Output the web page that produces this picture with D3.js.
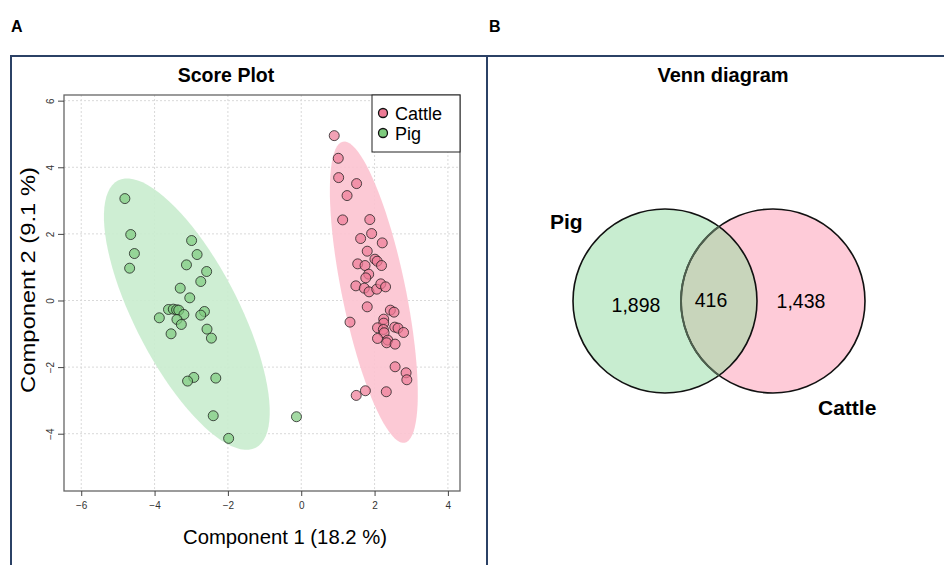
<!DOCTYPE html>
<html>
<head>
<meta charset="utf-8">
<script src="https://cdn.jsdelivr.net/npm/d3@7"></script>
<style>
  body { margin: 0; background: #fff; }
  svg { display: block; font-family: "Liberation Sans", Arial, sans-serif; }
</style>
</head>
<body>
<svg id="chart" width="944" height="565"></svg>
<script>
'use strict';

// score plot, component 1 / component 2
const cattlePC1 = [0.90, 1.01, 1.02, 1.51, 1.25, 1.13, 1.87, 1.92, 1.62, 2.21, 1.80, 2.01, 2.07, 2.19, 1.54, 1.74,
  1.84, 1.76, 1.49, 1.72, 1.85, 2.06, 2.17, 2.30, 1.80, 1.33, 2.43, 2.53, 2.25, 2.25, 2.08, 2.24, 2.55, 2.64, 2.79,
  2.26, 2.08, 2.36, 2.33, 2.56, 2.56, 2.86, 2.88, 1.50, 1.75, 2.32];
const cattlePC2 = [4.95, 4.27, 3.69, 3.51, 3.15, 2.42, 2.43, 2.01, 1.86, 1.73, 1.48, 1.24, 1.18, 1.05, 1.10, 1.05,
  0.79, 0.68, 0.44, 0.37, 0.26, 0.34, 0.50, 0.41, -0.19, -0.65, -0.29, -0.35, -0.56, -0.68, -0.82, -0.87, -0.80, -0.83, -0.96,
  -0.97, -1.14, -1.19, -1.27, -1.31, -1.99, -2.17, -2.38, -2.85, -2.71, -2.74];
const pigPC1 = [-4.81, -4.65, -4.55, -4.68, -2.99, -2.84, -3.13, -2.58, -2.74, -3.30, -3.04, -3.62, -3.49, -3.40, -3.34,
  -3.20, -3.87, -3.39, -2.64, -2.74, -3.27, -3.55, -2.57, -2.45, -2.93, -3.10, -2.33, -2.40, -1.98, -0.13];
const pigPC2 = [3.06, 1.98, 1.41, 0.97, 1.80, 1.38, 1.07, 0.87, 0.57, 0.37, 0.08, -0.27, -0.26, -0.28, -0.29,
  -0.42, -0.52, -0.57, -0.33, -0.44, -0.72, -1.00, -0.86, -1.13, -2.31, -2.42, -2.33, -3.46, -4.14, -3.49];

// 95% ellipses: centre, major semi-axis vector, minor semi-axis vector (data units)
const cattleEllipse = [1.98, 0.25, 0.845, -4.52, 0.851, 0.192];
const pigEllipse = [-3.12, -0.41, 1.88, -4.01, 1.257, 0.721];

const groups = ['Cattle', 'Pig'];
const xTicks = [-6, -4, -2, 0, 2, 4];
const yTicks = [-4, -2, 0, 2, 4, 6];

// venn diagram
const vennSets = ['Pig', 'Cattle'];
const vennCounts = [1898, 416, 1438];

const svg = d3.select('#chart');
const navy = '#2b4165';

// panel frames
svg.append('path')
  .attr('d', 'M11,570 V56 H944 M487,56 V570')
  .attr('fill', 'none')
  .attr('stroke', navy)
  .attr('stroke-width', 2);

svg.append('text').attr('x', 11).attr('y', 32).attr('font-size', 16).attr('font-weight', 'bold').text('A');
svg.append('text').attr('x', 489).attr('y', 32).attr('font-size', 16).attr('font-weight', 'bold').text('B');

// ---------- score plot ----------
const plot = { left: 64, right: 460, top: 95, bottom: 491 };
const x = d3.scaleLinear().domain([-6.47, 4.33]).range([plot.left, plot.right]);
const y = d3.scaleLinear().domain([-5.72, 6.17]).range([plot.bottom, plot.top]);
const fill = d3.scaleOrdinal().domain(groups).range(['#ee7a95', '#7dcb7d']);
const ellFill = d3.scaleOrdinal().domain(groups).range(['#fcc3d0', '#c9ecce']);

svg.append('text')
  .attr('x', 226).attr('y', 82)
  .attr('text-anchor', 'middle')
  .attr('font-size', 19.5)
  .attr('font-weight', 'bold')
  .text('Score Plot');

const grid = svg.append('g').attr('stroke', '#d9d9d9').attr('stroke-dasharray', '2,2');
grid.selectAll('.gx').data(xTicks).join('line')
  .attr('x1', d => x(d)).attr('x2', d => x(d))
  .attr('y1', plot.top).attr('y2', plot.bottom);
grid.selectAll('.gy').data(yTicks).join('line')
  .attr('y1', d => y(d)).attr('y2', d => y(d))
  .attr('x1', plot.left).attr('x2', plot.right);

const ellipseLine = d3.line()
  .x(d => x(d[0]))
  .y(d => y(d[1]));

function ellipsePoints(e) {
  return d3.range(0, 361, 4).map(function (deg) {
    const t = deg * Math.PI / 180;
    return [e[0] + e[2] * Math.cos(t) + e[4] * Math.sin(t),
            e[1] + e[3] * Math.cos(t) + e[5] * Math.sin(t)];
  });
}

svg.append('path')
  .datum(ellipsePoints(pigEllipse))
  .attr('d', ellipseLine)
  .attr('fill', ellFill('Pig'))
  .attr('fill-opacity', 0.9);
svg.append('path')
  .datum(ellipsePoints(cattleEllipse))
  .attr('d', ellipseLine)
  .attr('fill', ellFill('Cattle'))
  .attr('fill-opacity', 0.9);

const pigPts = pigPC1.map((v, i) => ({ g: 'Pig', x: v, y: pigPC2[i] }));
const cattlePts = cattlePC1.map((v, i) => ({ g: 'Cattle', x: v, y: cattlePC2[i] }));

svg.append('g').selectAll('circle')
  .data(pigPts.concat(cattlePts))
  .join('circle')
  .attr('cx', d => x(d.x))
  .attr('cy', d => y(d.y))
  .attr('r', 5)
  .attr('fill', d => fill(d.g))
  .attr('fill-opacity', 0.7)
  .attr('stroke', '#1a1a1a')
  .attr('stroke-opacity', 0.75)
  .attr('stroke-width', 1);

// frame
svg.append('rect')
  .attr('x', plot.left).attr('y', plot.top)
  .attr('width', plot.right - plot.left).attr('height', plot.bottom - plot.top)
  .attr('fill', 'none')
  .attr('stroke', '#666')
  .attr('stroke-width', 1.3);

const xAxis = svg.append('g')
  .attr('transform', `translate(0,${plot.bottom})`)
  .call(d3.axisBottom(x).tickValues(xTicks).tickSize(5).tickSizeOuter(0).tickPadding(6));
xAxis.select('.domain').remove();
xAxis.selectAll('line').attr('stroke', '#444');
xAxis.selectAll('text').attr('font-size', 10).attr('fill', '#333').attr('font-family', null);

const yAxis = svg.append('g')
  .attr('transform', `translate(${plot.left},0)`)
  .call(d3.axisLeft(y).tickValues(yTicks).tickSize(6).tickSizeOuter(0));
yAxis.select('.domain').remove();
yAxis.selectAll('line').attr('stroke', '#444');
yAxis.selectAll('text')
  .attr('font-size', 10).attr('fill', '#333').attr('font-family', null)
  .attr('x', null).attr('dy', null)
  .attr('text-anchor', 'middle')
  .attr('transform', 'translate(-14,0) rotate(-90)')
  .attr('dy', '0.35em');

svg.append('text')
  .attr('x', 285).attr('y', 544)
  .attr('text-anchor', 'middle')
  .attr('font-size', 21)
  .attr('textLength', 204)
  .attr('lengthAdjust', 'spacingAndGlyphs')
  .text('Component 1 (18.2 %)');

svg.append('text')
  .attr('transform', 'translate(35,280) rotate(-90)')
  .attr('text-anchor', 'middle')
  .attr('font-size', 20)
  .attr('textLength', 226)
  .attr('lengthAdjust', 'spacingAndGlyphs')
  .text('Component 2 (9.1 %)');

// legend
const legend = svg.append('g');
legend.append('rect')
  .attr('x', 372).attr('y', 95).attr('width', 88).attr('height', 57)
  .attr('fill', '#fff').attr('stroke', '#222').attr('stroke-width', 1);
const legendRow = d3.scalePoint().domain(groups).range([113, 133]);
legend.selectAll('circle').data(groups).join('circle')
  .attr('cx', 383).attr('cy', d => legendRow(d)).attr('r', 4.5)
  .attr('fill', d => fill(d)).attr('stroke', '#111').attr('stroke-width', 1.3);
legend.selectAll('text').data(groups).join('text')
  .attr('x', 395).attr('y', d => legendRow(d) + 6.5)
  .attr('font-size', 18)
  .text(d => d);

// ---------- venn diagram ----------
svg.append('text')
  .attr('x', 723).attr('y', 82)
  .attr('text-anchor', 'middle')
  .attr('font-size', 20)
  .attr('font-weight', 'bold')
  .text('Venn diagram');

const vx = d3.scalePoint().domain(vennSets).range([665, 773]);
const vcy = 301;
const vr = 92;
const vennFill = d3.scaleOrdinal().domain(vennSets).range(['#c8edd0', '#fecbd8']);

svg.append('defs').append('clipPath').attr('id', 'pigClip')
  .append('circle').attr('cx', vx('Pig')).attr('cy', vcy).attr('r', vr);

const venn = svg.append('g');
venn.selectAll('.fillc').data(vennSets).join('circle')
  .attr('cx', d => vx(d)).attr('cy', vcy).attr('r', vr)
  .attr('fill', d => vennFill(d));
venn.append('circle')
  .attr('cx', vx('Cattle')).attr('cy', vcy).attr('r', vr)
  .attr('clip-path', 'url(#pigClip)')
  .attr('fill', '#c8d5bb');
venn.selectAll('.edge').data(vennSets).join('circle')
  .attr('cx', d => vx(d)).attr('cy', vcy).attr('r', vr)
  .attr('fill', 'none')
  .attr('stroke', '#111')
  .attr('stroke-width', 1.6);
// inner arcs look softer in the reference
venn.append('circle')
  .attr('cx', vx('Cattle')).attr('cy', vcy).attr('r', vr)
  .attr('clip-path', 'url(#pigClip)')
  .attr('fill', 'none')
  .attr('stroke', '#4d5f4d')
  .attr('stroke-width', 2);

const fmt = d3.format(',');
const countX = [636, 711, 801];
const countY = [312, 307, 308];
venn.selectAll('.count').data(vennCounts).join('text')
  .attr('x', (d, i) => countX[i])
  .attr('y', (d, i) => countY[i])
  .attr('text-anchor', 'middle')
  .attr('font-size', 19.5)
  .text(d => fmt(d));

venn.append('text').attr('x', 550).attr('y', 229)
  .attr('font-size', 21).attr('font-weight', 'bold').text(vennSets[0]);
venn.append('text').attr('x', 818).attr('y', 415)
  .attr('font-size', 21).attr('font-weight', 'bold').text(vennSets[1]);
</script>
</body>
</html>
